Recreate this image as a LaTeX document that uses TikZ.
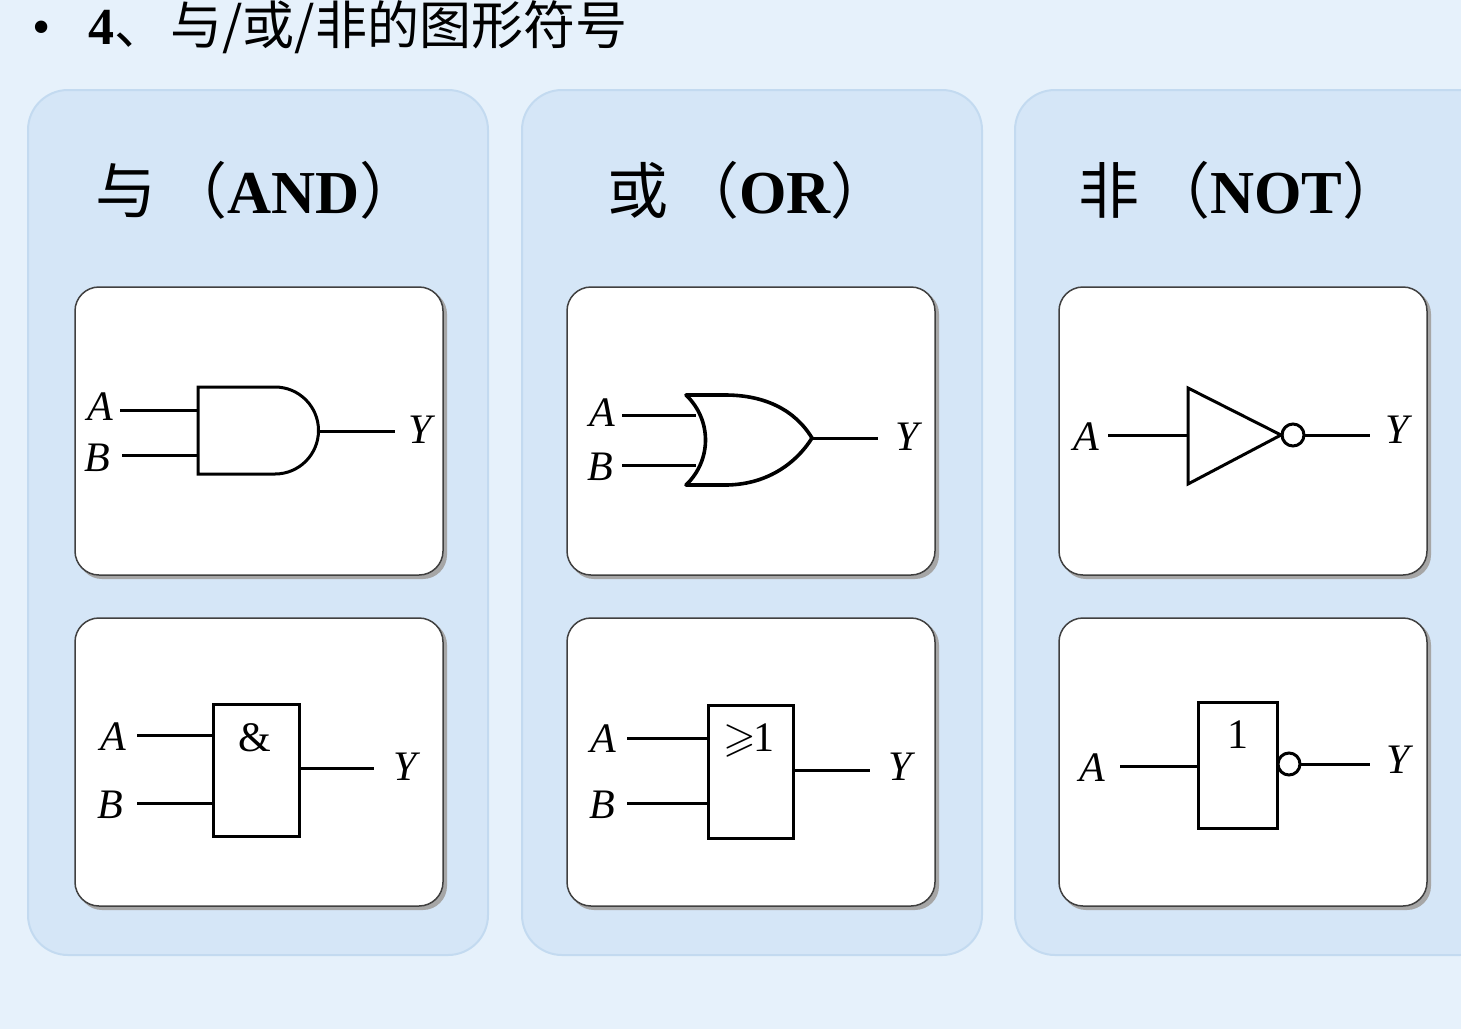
\documentclass[tikz,border=0pt]{standalone}
\usepackage{amssymb}
\usepackage{fontspec}
\setmainfont{Liberation Serif}
\newfontfamily\cjk{Noto Sans CJK SC}
\definecolor{bgc}{HTML}{E6F1FB}
\definecolor{panc}{HTML}{D5E6F7}
\definecolor{panb}{HTML}{C3DAF0}
\tikzset{
 panel/.style={fill=panc,draw=panb,line width=2pt,rounded corners=40pt},
 card/.style={fill=white,draw=black!75,line width=1.5pt,rounded corners=24pt},
 shad/.style={fill=black!35,rounded corners=24pt},
 w/.style={line width=3pt,line join=miter},
 lab/.style={font=\fontsize{42}{42}\selectfont\itshape,inner sep=0pt},
 head/.style={font=\fontsize{61}{61}\selectfont\bfseries,inner sep=0pt,anchor=west},
}
\begin{document}
\begin{tikzpicture}[x=1pt,y=-1pt]
\fill[bgc] (0,0) rectangle (1461,1029);
\useasboundingbox (0,0) rectangle (1461,1029);
\node[anchor=west,inner sep=0pt,font=\fontsize{52}{52}\selectfont] (title) at (32,27) {•\hspace{38pt}\textbf{4}{\cjk 、}\hspace{4pt}{\cjk 与/或/非的图形符号}};
% panels
\draw[panel] (28,90) rectangle (488,955);
\draw[panel] (522,90) rectangle (982,955);
\draw[panel] (1015,90) rectangle (1500,955);
\node[head] (h1) at (95,190) {{\mdseries\cjk 与\hspace{10pt}（}AND{\mdseries\cjk ）}};
\node[head] (h2) at (607,190) {{\mdseries\cjk 或\hspace{10pt}（}OR{\mdseries\cjk ）}};
\node[head] (h3) at (1078,190) {{\mdseries\cjk 非\hspace{10pt}（}NOT{\mdseries\cjk ）}};
% cards
\foreach \x in {75,567,1059}{
 \fill[shad] (\x+3,290) rectangle (\x+372,579);
 \draw[card] (\x,287) rectangle (\x+368,575);
 \fill[shad] (\x+3,621) rectangle (\x+372,910);
 \draw[card] (\x,618) rectangle (\x+368,906);
}
% AND
\coordinate (a1) at (120,410); \coordinate (a1e) at (198,410);
\coordinate (b1) at (122,455); \coordinate (b1e) at (198,455);
\draw[w] (a1)--(a1e); \draw[w] (b1)--(b1e);
\draw[w] (275,387) -- (198,387) -- (198,474) -- (275,474) arc[start angle=90,end angle=-90,radius=43.5];
\coordinate (y1) at (318,431); \coordinate (y1e) at (395,431);
\draw[w] (y1)--(y1e);
\node[lab] (la1) at (100,407) {A};
\node[lab] (lb1) at (97,458) {B};
\node[lab] (ly1) at (420,430) {Y};
% OR
\coordinate (a2) at (622,415); \coordinate (a2e) at (696,415);
\coordinate (b2) at (622,465); \coordinate (b2e) at (696,465);
\draw[w] (a2)--(a2e); \draw[w] (b2)--(b2e);
\draw[line width=3.6pt,line join=round] (686,395) .. controls (712,420) and (712,460) .. (686,485)
  -- (725,485) .. controls (765,485) and (795,465) .. (812,438)
  .. controls (795,410) and (765,395) .. (725,395) -- cycle;
\coordinate (y2) at (812,438); \coordinate (y2e) at (878,438);
\draw[w] (y2)--(y2e);
\node[lab] (la2) at (602,413) {A};
\node[lab] (lb2) at (600,467) {B};
\node[lab] (ly2) at (907,437) {Y};
% NOT
\coordinate (a3) at (1108,435); \coordinate (a3e) at (1188,435);
\draw[w] (a3)--(a3e);
\draw[w] (1188,388) -- (1188,484) -- (1281,435) -- cycle;
\draw[w] (1293,435) circle (11);
\coordinate (y3) at (1304,435); \coordinate (y3e) at (1370,435);
\draw[w] (y3)--(y3e);
\node[lab] (la3) at (1086,437) {A};
\node[lab] (ly3) at (1397,430) {Y};
% AND box
\node[draw,line width=3pt,minimum width=86pt,minimum height=132pt,inner sep=0pt] (g4) at (256,770) {};
\node[inner sep=0pt,font=\fontsize{42}{42}\selectfont] (amp) at (255,738) {\&};
\draw[w] (137,735)--(213,735); \draw[w] (137,803)--(213,803);
\draw[w] (299,768) -- (374,768);
\node[lab] at (113,737) {A};
\node[lab] at (110,805) {B};
\node[lab] at (405,767) {Y};
% OR box
\node[draw,line width=3pt,minimum width=85pt,minimum height=133pt,inner sep=0pt] (g5) at (750.5,771.5) {};
\node[inner sep=0pt,font=\fontsize{42}{42}\selectfont] (ge) at (749,740) {$\geqslant$\kern-2pt 1};
\draw[w] (627,738)--(708,738); \draw[w] (627,803)--(708,803);
\draw[w] (793,770)--(870,770);
\node[lab] at (603,739) {A};
\node[lab] at (602,805) {B};
\node[lab] at (900,767) {Y};
% NOT box
\node[draw,line width=3pt,minimum width=79pt,minimum height=126pt,inner sep=0pt] (g6) at (1237.5,765) {};
\node[inner sep=0pt,font=\fontsize{42}{42}\selectfont] (one) at (1238,735) {1};
\draw[w] (1120,766)--(1198,766);
\draw[w] (1289,764) circle (11);
\draw[w] (1300,764)--(1370,764);
\node[lab] at (1092,768) {A};
\node[lab] at (1398,760) {Y};
\end{tikzpicture}
\end{document}
